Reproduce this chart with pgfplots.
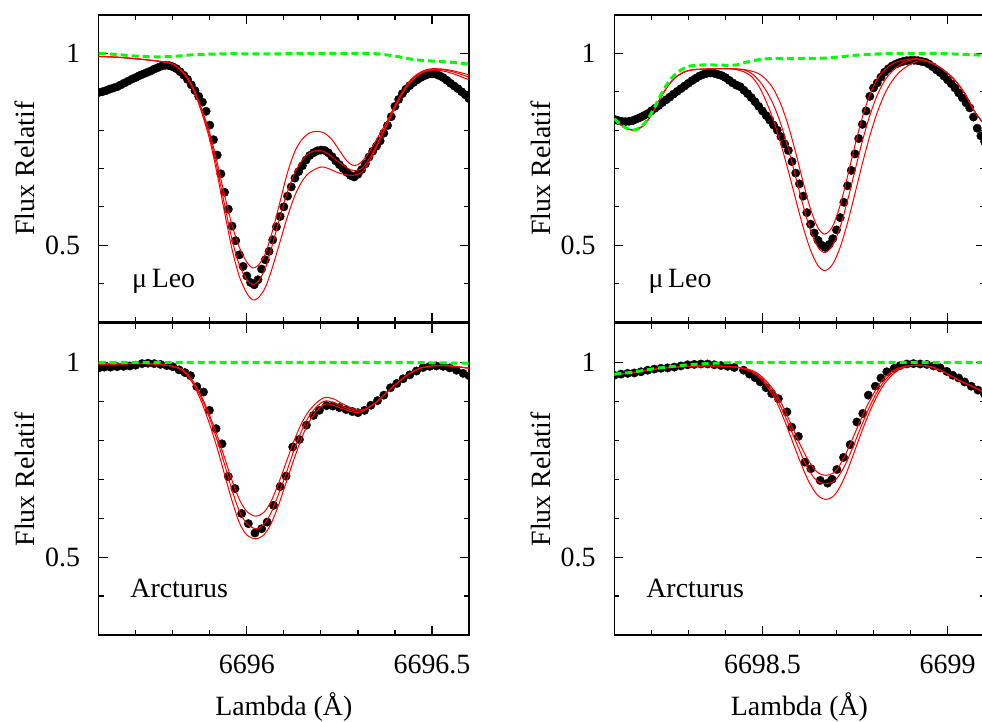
\documentclass[border=0pt]{standalone}
\usepackage{fontspec}
\setmainfont{Liberation Serif}
\usepackage{pgfplots}
\pgfplotsset{compat=1.18}
\newcommand\bigf{\fontsize{28}{33}\selectfont}
\pgfplotsset{
  panel/.style={
    scale only axis, width=370.3bp, anchor=south west,
    ymin=0.3, ymax=1.1,
    ytick={0.5,1}, yticklabels={0.5,1},
    minor ytick={0.4,0.6,0.7,0.8,0.9},
    major tick length=9bp, minor tick length=5bp,
    every tick/.style={black, line width=1.2bp},
    axis line style={line width=1.5bp},
    tick align=inside,
    clip marker paths=true,
    yticklabel style={font=\bigf, anchor=east, inner sep=0pt, xshift=-18.5bp},
    xticklabel style={font=\bigf, anchor=base, inner sep=0pt, yshift=-38bp},
    every axis y label/.style={at={(axis description cs:-0.199,0.5)}, rotate=90, anchor=center, font=\bigf},
    every axis x label/.style={at={(axis description cs:0.5,0)}, anchor=base, yshift=-80bp, font=\bigf},
    ylabel={Flux Relatif},
  },
  leftx/.style={xmin=6695.6, xmax=6696.6, xtick={6696,6696.5},
    minor xtick={6695.7,6695.8,6695.9,6696.1,6696.2,6696.3,6696.4}},
  rightx/.style={xmin=6698.1, xmax=6699.1, xtick={6698.5,6699},
    minor xtick={6698.2,6698.3,6698.4,6698.6,6698.7,6698.8,6698.9}},
  obs/.style={only marks, mark=*, mark size=4.2bp, black},
  syn/.style={red, line width=1bp, smooth, no marks},
  cont/.style={color=green, line width=3bp, dash pattern=on 7bp off 4bp, smooth, no marks},
}
\begin{document}
\begin{tikzpicture}
%%%%%%%%%%%%%%%% top left: mu Leo 6696
\begin{axis}[panel, leftx, at={(98.7bp,400bp)}, height=307bp, xticklabels={}]
\addplot[obs] coordinates {(6695.60,0.898)(6695.61,0.900)(6695.62,0.903)(6695.63,0.907)(6695.64,0.910)(6695.65,0.913)(6695.66,0.918)(6695.67,0.923)(6695.68,0.928)(6695.69,0.933)(6695.70,0.937)(6695.71,0.942)(6695.72,0.946)(6695.73,0.950)(6695.74,0.954)(6695.75,0.959)(6695.76,0.963)(6695.77,0.967)(6695.78,0.969)(6695.79,0.968)(6695.80,0.965)(6695.81,0.960)(6695.82,0.952)(6695.83,0.943)(6695.84,0.932)(6695.85,0.918)(6695.86,0.903)(6695.87,0.888)(6695.88,0.873)(6695.89,0.849)(6695.90,0.813)(6695.91,0.775)(6695.92,0.735)(6695.93,0.686)(6695.94,0.638)(6695.95,0.594)(6695.96,0.550)(6695.97,0.512)(6695.98,0.475)(6695.99,0.445)(6696.00,0.420)(6696.01,0.403)(6696.02,0.397)(6696.03,0.410)(6696.04,0.438)(6696.05,0.462)(6696.06,0.484)(6696.07,0.514)(6696.08,0.548)(6696.09,0.575)(6696.10,0.600)(6696.11,0.628)(6696.12,0.652)(6696.13,0.675)(6696.14,0.692)(6696.15,0.707)(6696.16,0.722)(6696.17,0.734)(6696.18,0.741)(6696.19,0.746)(6696.20,0.748)(6696.21,0.747)(6696.22,0.741)(6696.23,0.731)(6696.24,0.720)(6696.25,0.710)(6696.26,0.700)(6696.27,0.690)(6696.28,0.682)(6696.29,0.678)(6696.30,0.685)(6696.31,0.697)(6696.32,0.712)(6696.33,0.730)(6696.34,0.745)(6696.35,0.758)(6696.36,0.772)(6696.37,0.792)(6696.38,0.812)(6696.39,0.835)(6696.40,0.862)(6696.41,0.880)(6696.42,0.895)(6696.43,0.907)(6696.44,0.916)(6696.45,0.924)(6696.46,0.931)(6696.47,0.937)(6696.48,0.942)(6696.49,0.946)(6696.50,0.947)(6696.51,0.946)(6696.52,0.942)(6696.53,0.937)(6696.54,0.930)(6696.55,0.922)(6696.56,0.915)(6696.57,0.908)(6696.58,0.900)(6696.59,0.892)(6696.60,0.882)};
\addplot[syn] coordinates {(6695.60,0.992)(6695.65,0.990)(6695.70,0.986)(6695.75,0.981)(6695.78,0.977)(6695.80,0.972)(6695.82,0.959)(6695.84,0.937)(6695.86,0.900)(6695.88,0.850)(6695.90,0.792)(6695.92,0.715)(6695.94,0.630)(6695.96,0.553)(6695.98,0.494)(6696.00,0.456)(6696.015,0.441)(6696.03,0.447)(6696.05,0.478)(6696.07,0.540)(6696.09,0.615)(6696.11,0.690)(6696.13,0.745)(6696.15,0.777)(6696.17,0.793)(6696.19,0.797)(6696.21,0.792)(6696.23,0.775)(6696.25,0.747)(6696.27,0.720)(6696.285,0.709)(6696.30,0.710)(6696.32,0.728)(6696.34,0.758)(6696.36,0.792)(6696.38,0.825)(6696.40,0.865)(6696.42,0.900)(6696.44,0.928)(6696.46,0.946)(6696.48,0.956)(6696.50,0.960)(6696.53,0.959)(6696.56,0.954)(6696.60,0.944)};
\addplot[syn] coordinates {(6695.60,0.992)(6695.65,0.990)(6695.70,0.986)(6695.75,0.981)(6695.78,0.977)(6695.80,0.972)(6695.82,0.958)(6695.84,0.935)(6695.86,0.898)(6695.88,0.845)(6695.90,0.783)(6695.92,0.700)(6695.94,0.605)(6695.96,0.515)(6695.98,0.448)(6696.00,0.410)(6696.015,0.398)(6696.03,0.405)(6696.05,0.440)(6696.07,0.505)(6696.09,0.575)(6696.11,0.640)(6696.13,0.690)(6696.15,0.722)(6696.17,0.741)(6696.195,0.747)(6696.22,0.738)(6696.25,0.715)(6696.285,0.695)(6696.31,0.700)(6696.33,0.725)(6696.35,0.760)(6696.37,0.800)(6696.39,0.840)(6696.41,0.880)(6696.43,0.912)(6696.45,0.935)(6696.475,0.952)(6696.50,0.958)(6696.53,0.957)(6696.56,0.951)(6696.60,0.938)};
\addplot[syn] coordinates {(6695.60,0.992)(6695.65,0.990)(6695.70,0.986)(6695.75,0.981)(6695.78,0.977)(6695.80,0.972)(6695.82,0.957)(6695.84,0.933)(6695.86,0.895)(6695.88,0.840)(6695.90,0.774)(6695.92,0.685)(6695.94,0.585)(6695.96,0.490)(6695.98,0.418)(6696.00,0.375)(6696.015,0.358)(6696.03,0.362)(6696.05,0.390)(6696.07,0.445)(6696.09,0.510)(6696.11,0.575)(6696.13,0.630)(6696.15,0.668)(6696.17,0.690)(6696.20,0.704)(6696.22,0.700)(6696.25,0.688)(6696.285,0.682)(6696.31,0.690)(6696.33,0.716)(6696.35,0.755)(6696.37,0.796)(6696.39,0.838)(6696.41,0.878)(6696.43,0.910)(6696.45,0.933)(6696.475,0.950)(6696.50,0.956)(6696.53,0.954)(6696.56,0.946)(6696.60,0.931)};
\addplot[cont] coordinates {(6695.60,1.000)(6695.65,0.997)(6695.70,0.993)(6695.75,0.991)(6695.80,0.992)(6695.85,0.996)(6695.90,0.998)(6695.95,0.999)(6696.00,0.999)(6696.10,0.999)(6696.20,1.000)(6696.30,1.000)(6696.35,0.999)(6696.40,0.993)(6696.45,0.984)(6696.50,0.980)(6696.55,0.977)(6696.60,0.972)};
\node[anchor=base west, font=\bigf, inner sep=0pt] at (axis cs:6695.69,0.391) {μ\,Leo};
\end{axis}
%%%%%%%%%%%%%%%% bottom left: Arcturus 6696
\begin{axis}[panel, leftx, at={(98.7bp,87bp)}, height=311.5bp, xticklabels={6696,6696.5}, xlabel={Lambda (Å)}]
\addplot[obs] coordinates {(6695.600,0.986)(6695.615,0.988)(6695.632,0.988)(6695.650,0.989)(6695.667,0.990)(6695.684,0.991)(6695.700,0.993)(6695.717,0.997)(6695.733,0.998)(6695.750,0.997)(6695.767,0.995)(6695.784,0.992)(6695.800,0.989)(6695.817,0.981)(6695.833,0.974)(6695.848,0.966)(6695.865,0.938)(6695.883,0.924)(6695.899,0.877)(6695.917,0.830)(6695.933,0.791)(6695.950,0.707)(6695.968,0.676)(6695.986,0.612)(6696.004,0.586)(6696.022,0.562)(6696.040,0.573)(6696.055,0.590)(6696.072,0.633)(6696.090,0.681)(6696.106,0.708)(6696.124,0.783)(6696.142,0.802)(6696.161,0.839)(6696.180,0.864)(6696.196,0.877)(6696.215,0.889)(6696.232,0.888)(6696.250,0.884)(6696.268,0.879)(6696.285,0.874)(6696.300,0.871)(6696.318,0.877)(6696.335,0.890)(6696.353,0.902)(6696.370,0.916)(6696.388,0.935)(6696.405,0.946)(6696.422,0.958)(6696.440,0.968)(6696.458,0.978)(6696.476,0.987)(6696.494,0.990)(6696.512,0.991)(6696.530,0.990)(6696.548,0.986)(6696.566,0.980)(6696.584,0.972)(6696.600,0.966)};
\addplot[syn] coordinates {(6695.60,0.995)(6695.65,0.996)(6695.70,0.997)(6695.75,0.996)(6695.78,0.993)(6695.80,0.990)(6695.82,0.985)(6695.84,0.970)(6695.86,0.944)(6695.88,0.908)(6695.90,0.863)(6695.92,0.812)(6695.94,0.755)(6695.96,0.697)(6695.98,0.648)(6696.00,0.617)(6696.024,0.605)(6696.045,0.614)(6696.065,0.642)(6696.085,0.688)(6696.105,0.740)(6696.125,0.793)(6696.145,0.838)(6696.165,0.872)(6696.19,0.898)(6696.211,0.910)(6696.235,0.906)(6696.26,0.893)(6696.29,0.880)(6696.31,0.878)(6696.33,0.885)(6696.35,0.898)(6696.38,0.925)(6696.41,0.950)(6696.44,0.972)(6696.47,0.986)(6696.50,0.991)(6696.53,0.992)(6696.56,0.990)(6696.60,0.985)};
\addplot[syn] coordinates {(6695.60,0.995)(6695.65,0.996)(6695.70,0.997)(6695.75,0.996)(6695.78,0.993)(6695.80,0.990)(6695.82,0.984)(6695.84,0.968)(6695.86,0.940)(6695.88,0.903)(6695.90,0.855)(6695.92,0.800)(6695.94,0.738)(6695.96,0.672)(6695.98,0.618)(6696.00,0.586)(6696.024,0.573)(6696.045,0.583)(6696.065,0.613)(6696.085,0.660)(6696.105,0.712)(6696.125,0.768)(6696.145,0.818)(6696.165,0.857)(6696.19,0.888)(6696.211,0.901)(6696.235,0.897)(6696.26,0.886)(6696.29,0.876)(6696.31,0.876)(6696.33,0.885)(6696.35,0.898)(6696.38,0.925)(6696.41,0.950)(6696.44,0.972)(6696.47,0.986)(6696.50,0.991)(6696.53,0.992)(6696.56,0.990)(6696.60,0.985)};
\addplot[syn] coordinates {(6695.60,0.995)(6695.65,0.996)(6695.70,0.997)(6695.75,0.996)(6695.78,0.993)(6695.80,0.990)(6695.82,0.983)(6695.84,0.966)(6695.86,0.936)(6695.88,0.893)(6695.90,0.840)(6695.92,0.780)(6695.94,0.712)(6695.96,0.645)(6695.98,0.588)(6696.00,0.557)(6696.024,0.547)(6696.045,0.556)(6696.065,0.585)(6696.085,0.632)(6696.105,0.688)(6696.125,0.745)(6696.145,0.798)(6696.165,0.842)(6696.19,0.877)(6696.211,0.893)(6696.235,0.890)(6696.26,0.880)(6696.29,0.872)(6696.31,0.873)(6696.33,0.885)(6696.35,0.898)(6696.38,0.925)(6696.41,0.950)(6696.44,0.972)(6696.47,0.986)(6696.50,0.991)(6696.53,0.992)(6696.56,0.990)(6696.60,0.985)};
\addplot[cont] coordinates {(6695.60,1.000)(6695.80,1.000)(6696.00,1.000)(6696.20,1.000)(6696.40,1.000)(6696.50,0.999)(6696.60,0.998)};
\node[anchor=base west, font=\bigf, inner sep=0pt] at (axis cs:6695.685,0.396) {Arcturus};
\end{axis}
%%%%%%%%%%%%%%%% top right: mu Leo 6698
\begin{axis}[panel, rightx, at={(614.3bp,400bp)}, height=307bp, xticklabels={}]
\addplot[obs] coordinates {(6698.10,0.828)(6698.11,0.825)(6698.12,0.823)(6698.13,0.822)(6698.14,0.823)(6698.15,0.825)(6698.16,0.829)(6698.17,0.833)(6698.18,0.838)(6698.19,0.843)(6698.20,0.850)(6698.21,0.857)(6698.22,0.864)(6698.23,0.872)(6698.24,0.879)(6698.25,0.886)(6698.26,0.894)(6698.27,0.901)(6698.28,0.908)(6698.29,0.915)(6698.30,0.922)(6698.31,0.929)(6698.32,0.935)(6698.33,0.941)(6698.34,0.945)(6698.35,0.948)(6698.36,0.949)(6698.37,0.948)(6698.38,0.945)(6698.39,0.942)(6698.40,0.937)(6698.41,0.930)(6698.42,0.923)(6698.43,0.917)(6698.44,0.913)(6698.45,0.904)(6698.46,0.895)(6698.47,0.885)(6698.48,0.874)(6698.49,0.862)(6698.50,0.850)(6698.51,0.838)(6698.52,0.826)(6698.53,0.813)(6698.54,0.800)(6698.55,0.783)(6698.56,0.764)(6698.57,0.747)(6698.58,0.718)(6698.59,0.688)(6698.60,0.660)(6698.61,0.628)(6698.62,0.585)(6698.63,0.555)(6698.64,0.532)(6698.65,0.513)(6698.66,0.500)(6698.67,0.494)(6698.68,0.502)(6698.69,0.517)(6698.70,0.540)(6698.71,0.572)(6698.72,0.612)(6698.73,0.655)(6698.74,0.695)(6698.75,0.738)(6698.76,0.778)(6698.77,0.815)(6698.78,0.850)(6698.79,0.888)(6698.80,0.910)(6698.81,0.923)(6698.82,0.938)(6698.83,0.951)(6698.84,0.960)(6698.85,0.967)(6698.86,0.972)(6698.87,0.976)(6698.88,0.979)(6698.89,0.981)(6698.90,0.982)(6698.91,0.982)(6698.92,0.981)(6698.93,0.979)(6698.94,0.977)(6698.95,0.972)(6698.96,0.965)(6698.97,0.957)(6698.98,0.950)(6698.99,0.941)(6699.00,0.931)(6699.01,0.921)(6699.02,0.910)(6699.03,0.897)(6699.04,0.884)(6699.05,0.871)(6699.06,0.858)(6699.07,0.834)(6699.08,0.805)(6699.09,0.785)(6699.10,0.770)};
\addplot[syn] coordinates {(6698.10,0.828)(6698.12,0.812)(6698.14,0.802)(6698.15,0.800)(6698.17,0.806)(6698.19,0.825)(6698.21,0.857)(6698.23,0.893)(6698.25,0.922)(6698.27,0.941)(6698.29,0.952)(6698.31,0.957)(6698.34,0.959)(6698.38,0.960)(6698.42,0.960)(6698.45,0.958)(6698.47,0.954)(6698.49,0.947)(6698.51,0.932)(6698.53,0.907)(6698.55,0.867)(6698.57,0.811)(6698.59,0.741)(6698.61,0.664)(6698.63,0.594)(6698.65,0.545)(6698.669,0.529)(6698.69,0.550)(6698.71,0.605)(6698.73,0.680)(6698.75,0.761)(6698.77,0.834)(6698.79,0.892)(6698.81,0.932)(6698.83,0.957)(6698.85,0.972)(6698.87,0.980)(6698.89,0.984)(6698.92,0.986)(6698.95,0.978)(6698.98,0.963)(6699.01,0.940)(6699.03,0.918)(6699.05,0.890)(6699.07,0.853)(6699.09,0.826)(6699.10,0.815)};
\addplot[syn] coordinates {(6698.10,0.828)(6698.12,0.812)(6698.14,0.802)(6698.15,0.800)(6698.17,0.806)(6698.19,0.825)(6698.21,0.857)(6698.23,0.893)(6698.25,0.922)(6698.27,0.941)(6698.29,0.952)(6698.31,0.957)(6698.34,0.959)(6698.38,0.960)(6698.42,0.960)(6698.45,0.957)(6698.47,0.948)(6698.49,0.930)(6698.51,0.903)(6698.53,0.866)(6698.55,0.815)(6698.57,0.751)(6698.59,0.677)(6698.61,0.603)(6698.63,0.538)(6698.65,0.495)(6698.669,0.481)(6698.69,0.500)(6698.71,0.548)(6698.73,0.617)(6698.75,0.695)(6698.77,0.772)(6698.79,0.838)(6698.81,0.891)(6698.83,0.929)(6698.85,0.953)(6698.87,0.970)(6698.89,0.980)(6698.92,0.985)(6698.95,0.978)(6698.98,0.963)(6699.01,0.940)(6699.03,0.918)(6699.05,0.890)(6699.07,0.853)(6699.09,0.826)(6699.10,0.815)};
\addplot[syn] coordinates {(6698.10,0.828)(6698.12,0.812)(6698.14,0.802)(6698.15,0.800)(6698.17,0.806)(6698.19,0.825)(6698.21,0.857)(6698.23,0.893)(6698.25,0.922)(6698.27,0.941)(6698.29,0.952)(6698.31,0.957)(6698.34,0.959)(6698.38,0.960)(6698.42,0.959)(6698.45,0.952)(6698.47,0.940)(6698.49,0.915)(6698.51,0.875)(6698.53,0.825)(6698.55,0.763)(6698.57,0.693)(6698.59,0.619)(6698.61,0.547)(6698.63,0.487)(6698.65,0.447)(6698.669,0.434)(6698.69,0.451)(6698.71,0.495)(6698.73,0.559)(6698.75,0.635)(6698.77,0.713)(6698.79,0.785)(6698.81,0.846)(6698.83,0.894)(6698.85,0.928)(6698.87,0.951)(6698.89,0.966)(6698.92,0.980)(6698.95,0.977)(6698.98,0.963)(6699.01,0.940)(6699.03,0.918)(6699.05,0.890)(6699.07,0.853)(6699.09,0.826)(6699.10,0.815)};
\addplot[cont] coordinates {(6698.10,0.830)(6698.12,0.812)(6698.14,0.802)(6698.15,0.800)(6698.17,0.806)(6698.19,0.828)(6698.21,0.862)(6698.23,0.900)(6698.25,0.930)(6698.27,0.950)(6698.29,0.962)(6698.31,0.968)(6698.35,0.970)(6698.40,0.969)(6698.43,0.970)(6698.46,0.978)(6698.50,0.985)(6698.55,0.987)(6698.60,0.987)(6698.65,0.987)(6698.70,0.990)(6698.75,0.995)(6698.80,0.998)(6698.85,1.000)(6698.90,1.000)(6698.95,1.000)(6699.00,0.999)(6699.05,0.997)(6699.10,0.995)};
\node[anchor=base west, font=\bigf, inner sep=0pt] at (axis cs:6698.192,0.391) {μ\,Leo};
\end{axis}
%%%%%%%%%%%%%%%% bottom right: Arcturus 6698
\begin{axis}[panel, rightx, at={(614.3bp,87bp)}, height=311.5bp, xticklabels={6698.5,6699}, xlabel={Lambda (Å)}]
\addplot[obs] coordinates {(6698.100,0.967)(6698.118,0.970)(6698.136,0.972)(6698.154,0.973)(6698.172,0.976)(6698.190,0.980)(6698.208,0.983)(6698.226,0.985)(6698.244,0.986)(6698.262,0.988)(6698.280,0.991)(6698.298,0.994)(6698.316,0.995)(6698.334,0.996)(6698.352,0.996)(6698.370,0.994)(6698.388,0.992)(6698.406,0.990)(6698.424,0.987)(6698.449,0.980)(6698.465,0.970)(6698.480,0.961)(6698.494,0.950)(6698.510,0.935)(6698.525,0.920)(6698.543,0.907)(6698.566,0.873)(6698.579,0.834)(6698.597,0.810)(6698.615,0.744)(6698.631,0.727)(6698.656,0.697)(6698.676,0.690)(6698.688,0.700)(6698.701,0.725)(6698.719,0.756)(6698.737,0.789)(6698.755,0.847)(6698.771,0.869)(6698.786,0.916)(6698.805,0.939)(6698.820,0.960)(6698.836,0.976)(6698.856,0.985)(6698.872,0.992)(6698.890,0.996)(6698.908,0.997)(6698.926,0.996)(6698.944,0.995)(6698.962,0.991)(6698.980,0.986)(6698.998,0.977)(6699.014,0.967)(6699.030,0.960)(6699.046,0.950)(6699.064,0.939)(6699.082,0.929)(6699.100,0.918)};
\addplot[syn] coordinates {(6698.10,0.968)(6698.15,0.974)(6698.20,0.982)(6698.25,0.987)(6698.30,0.990)(6698.35,0.991)(6698.40,0.990)(6698.43,0.988)(6698.46,0.983)(6698.48,0.976)(6698.50,0.962)(6698.52,0.942)(6698.54,0.915)(6698.56,0.878)(6698.58,0.835)(6698.60,0.793)(6698.62,0.755)(6698.64,0.726)(6698.655,0.714)(6698.672,0.710)(6698.69,0.715)(6698.705,0.730)(6698.725,0.765)(6698.745,0.808)(6698.765,0.852)(6698.785,0.893)(6698.805,0.928)(6698.825,0.956)(6698.845,0.974)(6698.865,0.985)(6698.89,0.991)(6698.92,0.993)(6698.95,0.990)(6698.98,0.980)(6699.01,0.965)(6699.04,0.950)(6699.07,0.937)(6699.10,0.922)};
\addplot[syn] coordinates {(6698.10,0.968)(6698.15,0.974)(6698.20,0.982)(6698.25,0.987)(6698.30,0.990)(6698.35,0.991)(6698.40,0.990)(6698.43,0.988)(6698.46,0.982)(6698.48,0.973)(6698.50,0.958)(6698.52,0.935)(6698.54,0.905)(6698.56,0.865)(6698.58,0.820)(6698.60,0.775)(6698.62,0.732)(6698.64,0.703)(6698.655,0.692)(6698.672,0.689)(6698.69,0.693)(6698.705,0.707)(6698.725,0.740)(6698.745,0.784)(6698.765,0.832)(6698.785,0.877)(6698.805,0.916)(6698.825,0.947)(6698.845,0.969)(6698.865,0.982)(6698.89,0.991)(6698.92,0.993)(6698.95,0.990)(6698.98,0.980)(6699.01,0.965)(6699.04,0.950)(6699.07,0.937)(6699.10,0.922)};
\addplot[syn] coordinates {(6698.10,0.968)(6698.15,0.974)(6698.20,0.982)(6698.25,0.987)(6698.30,0.990)(6698.35,0.991)(6698.40,0.990)(6698.43,0.988)(6698.46,0.980)(6698.48,0.970)(6698.50,0.953)(6698.52,0.928)(6698.54,0.895)(6698.56,0.850)(6698.58,0.800)(6698.60,0.750)(6698.62,0.704)(6698.64,0.670)(6698.655,0.654)(6698.672,0.648)(6698.69,0.655)(6698.705,0.673)(6698.725,0.712)(6698.745,0.762)(6698.765,0.814)(6698.785,0.863)(6698.805,0.905)(6698.825,0.939)(6698.845,0.963)(6698.865,0.979)(6698.89,0.990)(6698.92,0.993)(6698.95,0.990)(6698.98,0.980)(6699.01,0.965)(6699.04,0.950)(6699.07,0.937)(6699.10,0.922)};
\addplot[cont] coordinates {(6698.10,0.970)(6698.15,0.975)(6698.20,0.983)(6698.25,0.989)(6698.30,0.994)(6698.35,0.997)(6698.40,0.999)(6698.45,1.000)(6698.60,1.000)(6698.80,1.000)(6699.00,1.000)(6699.10,1.000)};
\node[anchor=base west, font=\bigf, inner sep=0pt] at (axis cs:6698.186,0.396) {Arcturus};
\end{axis}
\pgfresetboundingbox
\path (0bp,0bp) rectangle (982bp,722bp);
\end{tikzpicture}
\end{document}
